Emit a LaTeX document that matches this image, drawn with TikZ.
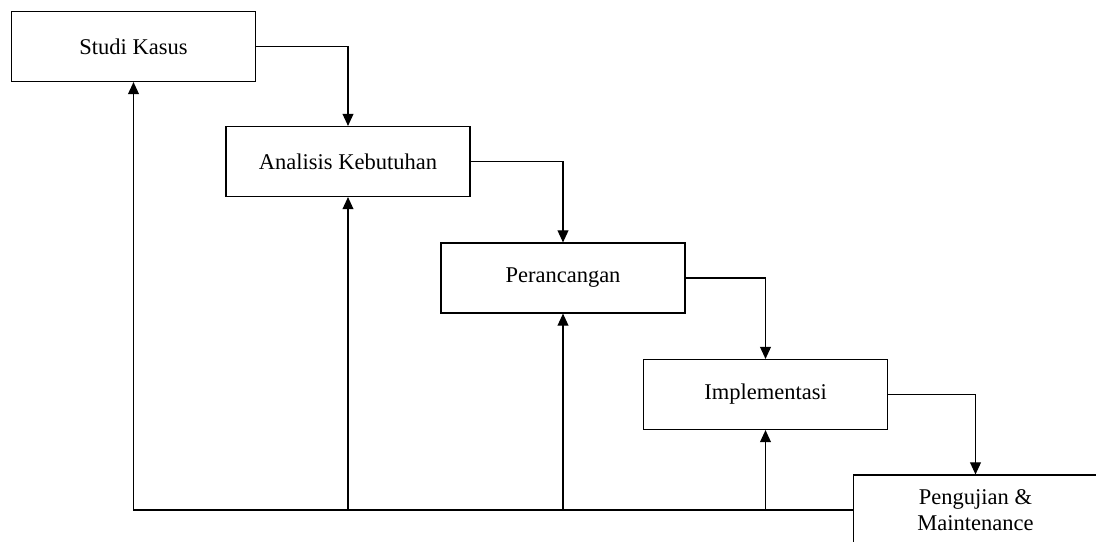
\documentclass[tikz,border=0pt]{standalone}
\usepackage{fontspec}
\setmainfont{Liberation Serif}
\usetikzlibrary{arrows.meta, positioning, calc}

\begin{document}
\begin{tikzpicture}[
    x=0.025cm, y=-0.025cm,
    phase/.style={rectangle, draw=black, line width=0.8pt, fill=white, minimum width=6.1cm, minimum height=1.75cm, align=center, font=\fontsize{16}{19}\selectfont},
    arrow/.style={-{Triangle[length=3mm, width=2.7mm]}, line width=0.8pt}
]
\useasboundingbox (0,0) rectangle (1096,541);

% Phases
\node[phase] (studi) at (133.5,46.5) {Studi Kasus};
\node[phase] (analisis) at (348,161.5) {Analisis Kebutuhan};
\node[phase] (rancang) at (563,278) {Perancangan};
\node[phase] (impl) at (765.5,394.5) {Implementasi};
\node[phase] (uji) at (975.5,510) {Pengujian \&\\Maintenance};

% Arrows - forward flow
\draw[arrow] (studi.east) -| (analisis.north);
\draw[arrow] (analisis.east) -| (rancang.north);
\draw[arrow] (rancang.east) -| (impl.north);
\draw[arrow] (impl.east) -| (uji.north);

% Feedback
\draw[arrow] (uji.west) -| (studi.south);
\draw[arrow] (analisis.south |- uji.west) -- (analisis.south);
\draw[arrow] (rancang.south |- uji.west) -- (rancang.south);
\draw[arrow] (impl.south |- uji.west) -- (impl.south);

\end{tikzpicture}
\end{document}
